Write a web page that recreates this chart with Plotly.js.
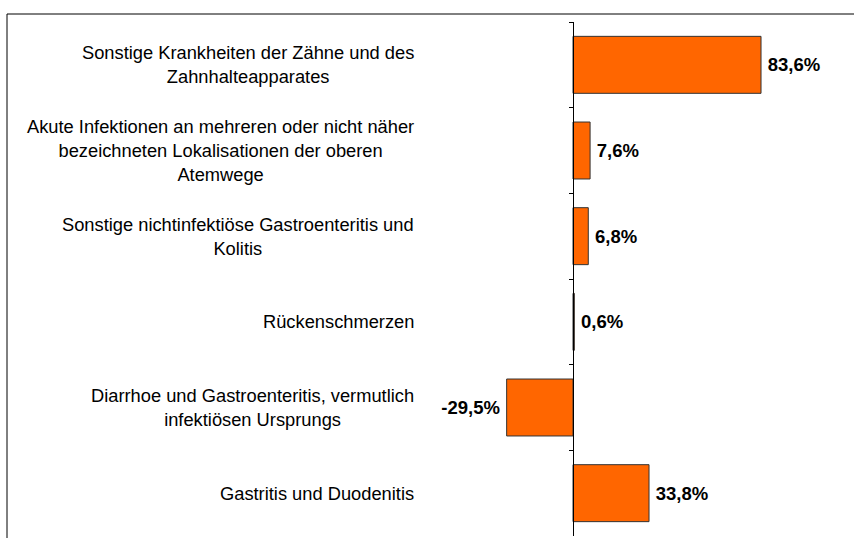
<!DOCTYPE html>
<html>
<head>
<meta charset="utf-8">
<script src="https://cdn.plot.ly/plotly-3.0.1.min.js"></script>
<style>
  html, body { margin: 0; padding: 0; background: #fff; overflow: hidden; }
  #chart { width: 854px; height: 538px; }
</style>
</head>
<body>
<div id="chart"></div>
<script>
// Data
const categories = [
  "Sonstige Krankheiten der Zähne und des<br>Zahnhalteapparates",
  "Akute Infektionen an mehreren oder nicht näher<br>bezeichneten Lokalisationen der oberen<br>Atemwege",
  "Sonstige nichtinfektiöse Gastroenteritis und<br>Kolitis",
  "Rückenschmerzen",
  "Diarrhoe und Gastroenteritis, vermutlich<br>infektiösen Ursprungs",
  "Gastritis und Duodenitis"
];
const values = [83.6, 7.6, 6.8, 0.6, -29.5, 33.8];

const W = 854, H = 538;
const axisX = 573;          // pixel of zero line
const pxPerUnit = 2.249;
const xmin = -axisX / pxPerUnit;
const xmax = (W - axisX) / pxPerUnit;

const font = "Liberation Sans, Arial, Helvetica, sans-serif";

// value labels, German decimal comma, with a thin space on the side facing the bar
const labels = values.map(v => {
  const s = v.toFixed(1).replace(".", ",") + "%";
  return v >= 0 ? "\u2009" + s : s + "\u2009";
});

const trace = {
  type: "bar",
  orientation: "h",
  y: categories,
  x: values,
  marker: { color: "#FF6600", line: { color: "#333333", width: 1 } },
  text: labels,
  textinfo: "text",
  texttemplate: "%{text}",
  textposition: "outside",
  cliponaxis: false,
  textfont: { family: font, size: 18.5, color: "#000", weight: "bold" },
  hoverinfo: "skip"
};

const annotations = categories.map((c) => ({
  xref: "paper", yref: "y",
  x: 416 / W, y: c,
  xanchor: "right", yanchor: "middle",
  align: "center",
  text: c,
  showarrow: false,
  font: { family: font, size: 18.3, color: "#000" }
}));

const plotTop = 22, plotBottom = 536;
const plotH = plotBottom - plotTop;
const borderTop = (plotBottom - 14) / plotH;

const layout = {
  width: W, height: H,
  margin: { l: 0, r: 0, t: plotTop, b: H - plotBottom, pad: 0 },
  paper_bgcolor: "#fff",
  plot_bgcolor: "rgba(0,0,0,0)",
  showlegend: false,
  bargap: 0.335,
  xaxis: {
    range: [xmin, xmax],
    visible: false,
    showgrid: false,
    zeroline: false,
    fixedrange: true
  },
  yaxis: {
    type: "category",
    range: [5.5, -0.5],
    anchor: "free",
    position: axisX / W,
    showline: true,
    linecolor: "#000",
    linewidth: 1,
    ticks: "outside",
    ticklen: 4,
    tickwidth: 1,
    tickcolor: "#000",
    tickson: "boundaries",
    showticklabels: false,
    showgrid: false,
    zeroline: false,
    fixedrange: true
  },
  annotations: annotations,
  shapes: [
    { type: "line", xref: "paper", yref: "paper",
      x0: 7 / W, x1: 1, y0: borderTop, y1: borderTop,
      line: { color: "#000", width: 1 }, layer: "above" },
    { type: "line", xref: "paper", yref: "paper",
      x0: 7 / W, x1: 7 / W, y0: -0.01, y1: borderTop,
      line: { color: "#000", width: 1 }, layer: "above" }
  ]
};

Plotly.newPlot("chart", [trace], layout, { displayModeBar: false, staticPlot: true });
</script>
</body>
</html>
